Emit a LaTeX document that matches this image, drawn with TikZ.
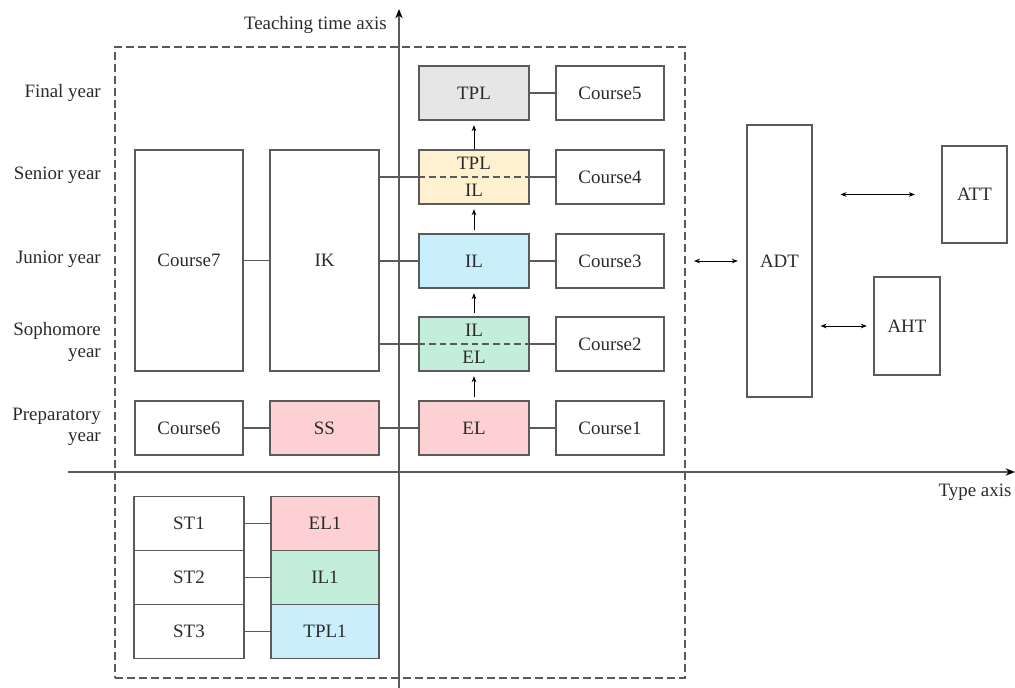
\documentclass[tikz,border=0pt]{standalone}
\usepackage{fontspec}
\setmainfont{Liberation Serif}
\usetikzlibrary{arrows.meta}
\definecolor{lc}{HTML}{5A5A5A}
\definecolor{tc}{HTML}{2A2A2A}
\definecolor{cgray}{HTML}{E6E6E6}
\definecolor{cyellow}{HTML}{FDF1CF}
\definecolor{cblue}{HTML}{C9EEFC}
\definecolor{cgreen}{HTML}{C3EEDC}
\definecolor{cpink}{HTML}{FDD0D3}
\tikzset{
  box/.style={draw=lc, line width=0.8pt, rectangle, inner sep=0pt, text=tc,
    font=\fontsize{14.2}{16}\selectfont},
  lbl/.style={inner sep=0pt, text=tc, font=\fontsize{14.2}{16}\selectfont},
  conn/.style={draw=lc, line width=0.8pt},
  uparr/.style={draw=black, line width=0.7pt, -{Stealth[length=4.5pt,width=3.5pt]}},
  dbl/.style={draw=black, line width=0.7pt, {Stealth[length=4.5pt,width=3.5pt]}-{Stealth[length=4.5pt,width=3.5pt]}},
  axis/.style={draw=lc, line width=0.9pt, -{Stealth[length=7pt,width=5.5pt,black]}},
}
\begin{document}
\begin{tikzpicture}[x=0.75pt,y=-0.75pt]
\useasboundingbox (0,0) rectangle (1015,688);
% dashed frame
\node[draw=lc, line width=0.8pt, dash pattern=on 6pt off 3pt, rectangle, inner sep=0pt,
  minimum width={570*0.75pt}, minimum height={631*0.75pt}] (frame) at (400,362.5) {};
% axes
\coordinate (vb) at (399,688);
\coordinate (vt) at (399,9);
\draw[axis] (vb) -- (vt);
\coordinate (hl) at (68,472);
\coordinate (hr) at (1015,472);
\draw[axis] (hl) -- (hr);
\node[lbl, anchor=east] (taxis) at (387,25) {Teaching time axis};
\node[lbl] (yaxis) at (975,492) {Type axis};
% year labels
\node[lbl, anchor=east] (y5) at (101,93) {Final year};
\node[lbl, anchor=east] (y4) at (101,175) {Senior year};
\node[lbl, anchor=east] (y3) at (101,259) {Junior year};
\node[lbl, anchor=east, align=right] (y2) at (101,342) {Sophomore\\year};
\node[lbl, anchor=east, align=right] (y1) at (101,427) {Preparatory\\year};
% middle column
\node[box, fill=cgray, minimum width={110*0.75pt}, minimum height={54*0.75pt}] (tpl) at (474,93) {TPL};
\node[box, fill=cyellow, minimum width={110*0.75pt}, minimum height={54*0.75pt}] (tplil) at (474,177) {};
\node[lbl] (tplilA) at (474,163) {TPL};
\node[lbl] (tplilB) at (474,190) {IL};
\node[box, fill=cblue, minimum width={110*0.75pt}, minimum height={54*0.75pt}] (il) at (474,261) {IL};
\node[box, fill=cgreen, minimum width={110*0.75pt}, minimum height={54*0.75pt}] (ilel) at (474,344) {};
\node[lbl] (ilelA) at (474,330) {IL};
\node[lbl] (ilelB) at (474,357) {EL};
\node[box, fill=cpink, minimum width={110*0.75pt}, minimum height={54*0.75pt}] (el) at (474,428) {EL};
\draw[conn, dash pattern=on 5pt off 3pt] (tplil.west) -- (tplil.east);
\draw[conn, dash pattern=on 5pt off 3pt] (ilel.west) -- (ilel.east);
% courses right
\node[box, minimum width={108*0.75pt}, minimum height={54*0.75pt}] (c5) at (610,93) {Course5};
\node[box, minimum width={108*0.75pt}, minimum height={54*0.75pt}] (c4) at (610,177) {Course4};
\node[box, minimum width={108*0.75pt}, minimum height={54*0.75pt}] (c3) at (610,261) {Course3};
\node[box, minimum width={108*0.75pt}, minimum height={54*0.75pt}] (c2) at (610,344) {Course2};
\node[box, minimum width={108*0.75pt}, minimum height={54*0.75pt}] (c1) at (610,428) {Course1};
% left column
\node[box, minimum width={108*0.75pt}, minimum height={221*0.75pt}] (c7) at (189,260.5) {Course7};
\node[box, minimum width={109*0.75pt}, minimum height={221*0.75pt}] (ik) at (324.5,260.5) {IK};
\node[box, minimum width={108*0.75pt}, minimum height={54*0.75pt}] (c6) at (189,428) {Course6};
\node[box, fill=cpink, minimum width={109*0.75pt}, minimum height={54*0.75pt}] (ss) at (324.5,428) {SS};
% connectors
\draw[conn] (tpl) -- (c5);
\draw[conn] (tplil) -- (c4);
\draw[conn] (il) -- (c3);
\draw[conn] (ilel) -- (c2);
\draw[conn] (el) -- (c1);
\draw[conn] (c7) -- (ik);
\draw[conn] (ik.east |- il.west) -- (il.west);
\draw[conn] (ik.east |- tplil.west) -- (tplil.west);
\draw[conn] (ik.east |- ilel.west) -- (ilel.west);
\draw[conn] (c6) -- (ss);
\draw[conn] (ss) -- (el);
% up arrows
\draw[uparr, shorten <=2.5pt, shorten >=3.5pt] (el.north) -- (ilel.south);
\draw[uparr, shorten <=2.5pt, shorten >=3.5pt] (ilel.north) -- (il.south);
\draw[uparr, shorten <=2.5pt, shorten >=3.5pt] (il.north) -- (tplil.south);
\draw[uparr, shorten <=0pt, shorten >=3.5pt] (tplil.north) -- (tpl.south);
% right side
\node[box, minimum width={65*0.75pt}, minimum height={272*0.75pt}] (adt) at (779.5,261) {ADT};
\node[box, minimum width={65*0.75pt}, minimum height={97*0.75pt}] (att) at (974.5,194.5) {ATT};
\node[box, minimum width={66*0.75pt}, minimum height={98*0.75pt}] (aht) at (907,326) {AHT};
\coordinate (la) at (694,261);
\draw[dbl, shorten >=6.5pt] (la) -- (adt.west);
\draw[dbl, shorten <=21pt, shorten >=20pt] (adt.east |- att.west) -- (att.west);
\draw[dbl, shorten <=6pt, shorten >=5pt] (adt.east |- aht.west) -- (aht.west);
% bottom
\node[box, minimum width={110*0.75pt}, minimum height={54*0.75pt}] (st1) at (189,523.5) {ST1};
\node[box, minimum width={110*0.75pt}, minimum height={54*0.75pt}] (st2) at (189,577.5) {ST2};
\node[box, minimum width={110*0.75pt}, minimum height={54*0.75pt}] (st3) at (189,631.5) {ST3};
\node[box, fill=cpink, minimum width={108*0.75pt}, minimum height={54*0.75pt}] (el1) at (325,523.5) {EL1};
\node[box, fill=cgreen, minimum width={108*0.75pt}, minimum height={54*0.75pt}] (il1) at (325,577.5) {IL1};
\node[box, fill=cblue, minimum width={108*0.75pt}, minimum height={54*0.75pt}] (tpl1) at (325,631.5) {TPL1};
\draw[conn] (st1) -- (el1);
\draw[conn] (st2) -- (il1);
\draw[conn] (st3) -- (tpl1);
\end{tikzpicture}
\end{document}
